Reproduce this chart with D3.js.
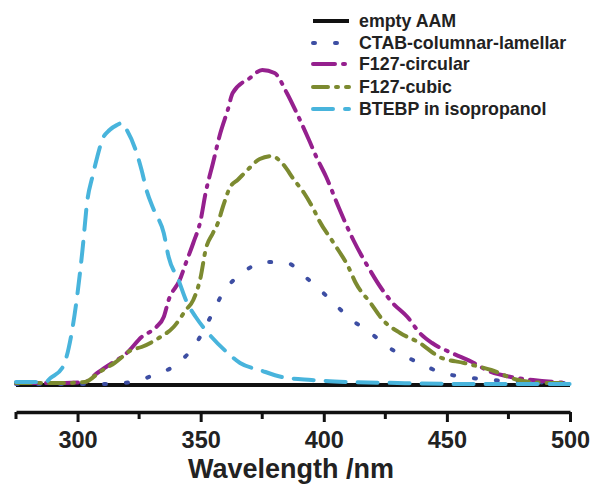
<!DOCTYPE html>
<html>
<head>
<meta charset="utf-8">
<script src="https://cdn.jsdelivr.net/npm/d3@7"></script>
<style>
  body { margin: 0; background: #fff; }
  text { font-family: "Liberation Sans", Arial, sans-serif; font-weight: bold; fill: #222; }
</style>
</head>
<body>
<svg id="chart" width="591" height="484"></svg>
<script>
// ---- Data (intensity in a.u.) ----
const seriesNames = ["empty AAM", "CTAB-columnar-lamellar", "F127-circular", "F127-cubic", "BTEBP in isopropanol"];

const emptyW = [275, 500];
const emptyI = [0, 0];

const ctabW = [275, 290, 305, 312, 322, 331, 341, 349, 354, 359, 367, 376, 385, 393, 402, 410, 420, 428, 438, 447, 457, 468, 485, 497, 500];
const ctabI = [1, 1, 1, 1, 3, 10, 22, 45, 68, 92, 112, 123, 122, 107, 87, 68, 50, 35, 23, 13, 8, 5, 3, 2, 2];

const circW = [275, 285, 295, 303, 308, 314, 320, 326, 332, 335, 337, 341.5, 344, 347, 350, 352, 355, 358, 361, 363, 370, 375, 380, 385, 389, 394, 397, 401, 406, 412, 418, 423, 428, 434, 439, 444, 452, 461, 466, 476, 485, 499];
const circI = [2, 2, 2, 3, 12, 22, 32, 48, 58, 68, 85, 105, 122, 142, 165, 192, 222, 252, 275, 292, 307, 315, 312, 292, 272, 245, 228, 208, 178, 145, 118, 98, 82, 68, 52, 42, 32, 22, 15, 8, 5, 2];

const cubicW = [275, 285, 295, 303, 309, 315, 322, 326, 333, 339, 344, 347, 350, 352, 355, 357, 359, 362, 365, 369, 374, 379, 383, 388, 392, 396, 398, 404, 410, 413, 419, 424, 431, 439, 447, 457, 468, 479, 492, 499];
const cubicI = [2, 2, 2, 3, 13, 22, 35, 38, 47, 58, 75, 85, 108, 135, 152, 162, 178, 198, 205, 215, 226, 229, 222, 205, 192, 175, 165, 142, 118, 102, 82, 65, 52, 42, 28, 22, 15, 5, 2, 2];

const btebpW = [275, 280, 287, 289, 294, 297.6, 300, 302, 304, 306, 308, 310, 313, 316, 318, 320, 324, 326, 328, 331, 335, 337, 341, 344, 348, 352, 361, 366, 374, 383, 395, 410, 430, 460, 500];
const btebpI = [3, 3, 3, 7, 18, 52, 92, 135, 185, 208, 228, 245, 255, 260, 262, 255, 232, 215, 195, 175, 152, 128, 105, 85, 68, 55, 32, 22, 15, 8, 5, 3, 2, 1, 1];

const majorTicks = [300, 350, 400, 450, 500];
const minorTicks = [275, 325, 375, 425, 475];

// ---- Styles ----
const styles = [
  { color: "#111", dash: null, width: 4 },
  { color: "#3d4ea3", dash: "2 20", width: 4 },
  { color: "#95208e", dash: "22 8 2 8", width: 4 },
  { color: "#7c8a30", dash: "15 8 2 8", width: 4 },
  { color: "#48b4dc", dash: "20 12", width: 4 }
];

const series = [
  [emptyW, emptyI], [ctabW, ctabI], [circW, circI], [cubicW, cubicI], [btebpW, btebpI]
].map(([w, v]) => w.map((d, i) => ({ w: d, v: v[i] })));

const svg = d3.select("#chart");

const x = d3.scaleLinear().domain([275, 500]).range([16, 570]);
const y = d3.scaleLinear().domain([0, 330]).range([385, 55]);

const line = d3.line()
  .x(d => x(d.w))
  .y(d => y(d.v))
  .curve(d3.curveMonotoneX);

// curves
series.forEach((pts, i) => {
  svg.append("path")
    .datum(pts)
    .attr("d", line)
    .attr("fill", "none")
    .attr("stroke", styles[i].color)
    .attr("stroke-width", styles[i].width)
    .attr("stroke-linecap", i === 0 ? "butt" : "round")
    .attr("stroke-dasharray", styles[i].dash);
});

// x axis
const axisY = 412;
const xAxis = svg.append("g")
  .attr("transform", `translate(0,${axisY})`)
  .call(d3.axisBottom(x).tickValues(majorTicks).tickSize(10).tickSizeOuter(0));

xAxis.select(".domain").attr("stroke", "#111").attr("stroke-width", 3.5);
xAxis.selectAll(".tick line").attr("stroke", "#111").attr("stroke-width", 3);
xAxis.selectAll(".tick text")
  .attr("y", 36).attr("dy", 0)
  .attr("font-size", 23.5)
  .style("font-family", "'Liberation Sans', Arial, sans-serif")
  .style("font-weight", "bold")
  .attr("fill", "#222");

svg.append("g").selectAll("line")
  .data(minorTicks)
  .join("line")
  .attr("x1", d => x(d)).attr("x2", d => x(d))
  .attr("y1", axisY).attr("y2", axisY + 7)
  .attr("stroke", "#111").attr("stroke-width", 3);

svg.append("text")
  .attr("x", 291).attr("y", 478)
  .attr("text-anchor", "middle")
  .attr("font-size", 27)
  .text("Wavelength /nm");

// legend
const legend = svg.append("g");
const rowY = [21, 43, 64, 87, 109];
seriesNames.forEach((name, i) => {
  legend.append("line")
    .attr("x1", 313).attr("x2", 349)
    .attr("y1", rowY[i]).attr("y2", rowY[i])
    .attr("stroke", styles[i].color)
    .attr("stroke-width", styles[i].width)
    .attr("stroke-linecap", i === 0 ? "butt" : "round")
    .attr("stroke-dasharray", styles[i].dash);
  legend.append("text")
    .attr("x", 359).attr("y", rowY[i] + 6)
    .attr("font-size", 17.8)
    .text(name);
});
</script>
</body>
</html>
